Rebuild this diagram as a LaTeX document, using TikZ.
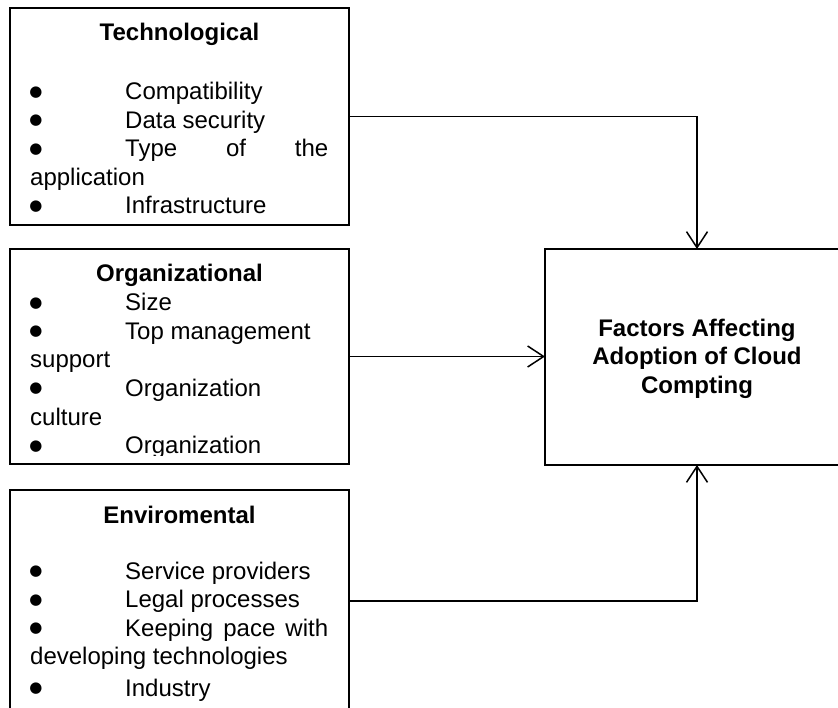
\documentclass[tikz,border=0pt]{standalone}
\usepackage{fontspec}
\setmainfont{Liberation Sans}
\newfontfamily\bulfont{DejaVu Sans}
\usetikzlibrary{arrows.meta}
\begin{document}
\begin{tikzpicture}[x=1pt,y=-1pt,
  box/.style={draw=black, line width=1.8pt, inner sep=0pt, outer sep=0pt},
  txt/.style={inner sep=0pt, font=\fontsize{24}{28.5}\selectfont, anchor=base west},
  ttl/.style={inner sep=0pt, font=\fontsize{24}{28.5}\selectfont\bfseries, anchor=base},
  bul/.style={inner sep=0pt, font=\bulfont\fontsize{15}{18}\selectfont, anchor=base, yshift=3.5pt},
  conn/.style={line width=1.5pt, -{Straight Barb[length=16pt,width=21pt]}}]
\useasboundingbox (0,0) rectangle (838,708);
\clip (0,0) rectangle (838,708);
% boxes
\node[box, minimum width=339pt, minimum height=217pt] (tech) at (179.5,116.5) {};
\node[box, minimum width=339pt, minimum height=215pt] (org) at (179.5,356.5) {};
\node[box, minimum width=339pt, minimum height=222pt] (env) at (179.5,601) {};
\node[box, minimum width=304pt, minimum height=216pt] (fac) at (697,357) {};
% technological
\node[ttl] (t0) at (179.5,41) {Technological};
\node[bul] (tb1) at (36,100) {●};
\node[txt] (t1) at (125,100) {Compatibility};
\node[bul] (tb2) at (36,128.5) {●};
\node[txt] (t2) at (125,128.5) {Data security};
\node[bul] (tb3) at (36,157) {●};
\node[txt] (t3) at (125,157) {\hbox to 203pt{Type\hfill of\hfill the}};
\node[txt] (t4) at (30,185.5) {application};
\node[bul] (tb5) at (36,214) {●};
\node[txt] (t5) at (125,214) {Infrastructure};
% organizational
\node[ttl] (o0) at (179.5,282) {Organizational};
\node[bul] (ob1) at (36,311) {●};
\node[txt] (o1) at (125,311) {Size};
\node[bul] (ob2) at (36,339.5) {●};
\node[txt] (o2) at (125,339.5) {Top management};
\node[txt] (o3) at (30,368) {support};
\node[bul] (ob4) at (36,396.5) {●};
\node[txt] (o4) at (125,396.5) {Organization};
\node[txt] (o5) at (30,425) {culture};
\begin{scope}
\clip (10,249) rectangle (349,455);
\node[bul] (ob6) at (36,453.5) {●};
\node[txt] (o6) at (125,453.5) {Organization};
\end{scope}
% environmental
\node[ttl] (e0) at (179.5,523) {Enviromental};
\node[bul] (eb1) at (36,579) {●};
\node[txt] (e1) at (125,579) {Service providers};
\node[bul] (eb2) at (36,607.5) {●};
\node[txt] (e2) at (125,607.5) {Legal processes};
\node[bul] (eb3) at (36,636) {●};
\node[txt] (e3) at (125,636) {\hbox to 203pt{Keeping\hfill pace\hfill with}};
\node[txt] (e4) at (30,664.5) {developing technologies};
\node[bul] (eb5) at (36,696) {●};
\node[txt] (e5) at (125,696) {Industry};
% factors
\node[ttl] (f1) at (697,336.5) {Factors Affecting};
\node[ttl] (f2) at (697,365) {Adoption of Cloud};
\node[ttl] (f3) at (697,393.5) {Compting};
% connectors
\draw[conn] (tech.east) -| (fac.north);
\draw[conn] (org.east) -- (org.east -| fac.west);
\draw[conn] (env.east) -| (fac.south);
\end{tikzpicture}
\end{document}
